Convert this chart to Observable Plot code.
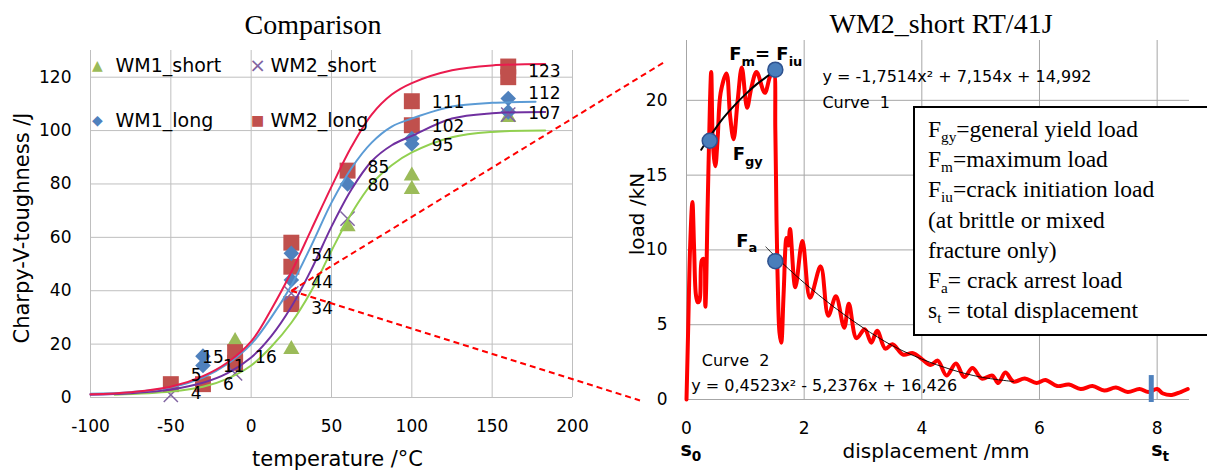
<!DOCTYPE html>
<html><head><meta charset="utf-8">
<script src="https://cdn.jsdelivr.net/npm/d3@7"></script>
<script src="https://cdn.jsdelivr.net/npm/@observablehq/plot@0.6"></script>
<style>
body{margin:0;background:#fff;}
#wrap{position:relative;width:1207px;height:470px;overflow:hidden;background:#fff;}
.title{position:absolute;font-family:"Liberation Serif",serif;font-size:28px;line-height:28px;color:#000;white-space:nowrap;transform:translateX(-50%);}
#lbox{position:absolute;left:913px;top:106px;width:330px;height:230px;box-sizing:border-box;border:2px solid #000;background:#fff;
 font-family:"Liberation Serif",serif;font-size:23.5px;line-height:30.2px;padding:6px 0 0 13px;color:#000;white-space:nowrap;}
#lbox sub{font-size:65%;vertical-align:-0.35em;line-height:0;}
#right,#left{position:absolute;top:0;}
#right{left:600px;}
#left{left:0;}
</style></head><body>
<div id="wrap">
 <div id="right"></div>
 <div id="lbox">
  F<sub>gy</sub>=general&nbsp;yield load<br>
  F<sub>m</sub>=maximum load<br>
  F<sub>iu</sub>=crack initiation&nbsp;load<br>
  (at brittle or mixed<br>
  fracture only)<br>
  F<sub>a</sub>= crack arrest load<br>
  s<sub>t</sub> = total displacement
 </div>
 <div id="left"></div>
 <div class="title" style="left:313px;top:11px;">Comparison</div>
 <div class="title" style="left:941px;top:10px;">WM2_short&nbsp;RT/41J</div>
</div>
<script>
// ---------- Left chart: Charpy-V toughness vs temperature ----------
const tempTicks = [-100, -50, 0, 50, 100, 150, 200];
const toughTicks = [0, 20, 40, 60, 80, 100, 120];
const seriesNames = ["WM1_short", "WM2_short", "WM1_long", "WM2_long"];
const markerColors = ["#9BBB59", "#8064A2", "#4F81BD", "#C0504D"];
const fitColors = ["#92D050", "#7030A0", "#5B9BD5", "#EA1B4E"];
const legendGlyphs = ["\u25B2", "\u00D7", "\u25C6", "\u25A0"];

// measured points
const wm1ShortT = [-10, 25, 60, 100, 100, 160];
const wm1ShortJ = [21, 18, 64, 83, 78, 105];
const wm2ShortT = [-50, -10, 25, 60, 160];
const wm2ShortJ = [1, 9, 39, 67, 106];
const wm1LongT = [-30, -30, 25, 25, 60, 100, 100, 160, 160];
const wm1LongJ = [15.5, 12, 54, 44, 80, 97, 95, 112, 107];
const wm2LongT = [-50, -30, -10, -10, 25, 25, 25, 60, 100, 100, 160, 160];
const wm2LongJ = [5, 5, 17, 13, 58, 49, 35, 85, 111, 102, 124, 120];

// fitted transition curves
const wm1ShortFitT = [-85, -50, -30, -15, 0, 12.5, 25, 37.5, 50, 62.5, 75, 87.5, 100, 125, 150, 183];
const wm1ShortFitJ = [1, 2.2, 4, 7, 12, 19, 28, 40, 55, 69, 80, 87, 91.8, 97.5, 99.5, 100];
const wm2ShortFitT = [-100, -75, -50, -30, -15, 0, 12.5, 25, 37.5, 50, 62.5, 75, 87.5, 100, 125, 150, 183];
const wm2ShortFitJ = [1, 1.6, 3, 5.5, 9, 15, 23, 34, 48, 64, 78, 88.5, 94.5, 98, 104.5, 106.5, 107];
const wm1LongFitT = [-100, -75, -50, -30, -15, 0, 12.5, 25, 37.5, 50, 62.5, 75, 87.5, 100, 125, 150, 177];
const wm1LongFitJ = [1.4, 2, 3.8, 7.5, 12.5, 20, 30, 42, 57, 73, 86, 95.5, 101.5, 104.5, 109, 110.4, 110.8];
const wm2LongFitT = [-100, -75, -50, -30, -15, 0, 12.5, 25, 37.5, 50, 62.5, 75, 87.5, 100, 125, 150, 183];
const wm2LongFitJ = [1.2, 2, 4, 8, 13, 21, 33, 47, 63, 79, 94, 106, 113.5, 117.8, 122.6, 124.4, 124.9];

// data labels
const labelT = [160, 160, 160, 100, 100, 100, 60, 60, 25, 25, 25, -10, -43, -30, -30, -50, -50];
const labelJ = [122, 113.8, 106.5, 110.6, 101.6, 94.5, 86.3, 79.5, 53.2, 43, 33.4, 15, 15, 11.5, 4.8, 8.3, 1.3];
const labelText = ["123", "112", "107", "111", "102", "95", "85", "80", "54", "44", "34", "16", "15", "11", "6", "5", "4"];

// dashed zoom connectors (left-chart units)
const zoomFromT = [25, 25], zoomFromJ = [40, 40];
const zoomToT = [257, 242], zoomToJ = [125.6, -1.1];

// ---------- Right chart: load vs displacement ----------
const dispTicks = [0, 2, 4, 6, 8];
const loadTicks = [0, 5, 10, 15, 20];
const dispX = [0, 0.03, 0.06, 0.1, 0.13, 0.16, 0.19, 0.22, 0.26, 0.29, 0.32, 0.36, 0.4, 0.42, 0.45, 0.49, 0.53, 0.58, 0.68,
  0.74, 0.8, 0.87, 0.94, 1.03, 1.1, 1.19, 1.33, 1.42, 1.48, 1.51, 1.53, 1.55, 1.58, 1.61, 1.65, 1.7, 1.73, 1.76, 1.85,
  1.97, 2.1, 2.28, 2.41, 2.54, 2.68, 2.76, 2.89, 3.03, 3.14, 3.24, 3.38, 3.5, 3.68, 3.85, 4.0, 4.15, 4.27, 4.42, 4.58,
  4.72, 4.86, 5.02, 5.2, 5.3, 5.42, 5.56, 5.75, 5.95, 6.1, 6.3, 6.5, 6.7, 6.9, 7.1, 7.3, 7.5, 7.7, 7.85, 8.0, 8.1, 8.25, 8.4, 8.52];
const loadY = [0, 5, 10, 13.2, 10, 7, 6.5, 6.6, 9.3, 9.4, 6.2, 13, 20, 21.9, 17, 15.6, 17.5, 20.5, 21.8,
  19, 17.4, 20, 22.2, 19.5, 20.8, 21.9, 20.5, 21.6, 22, 18, 12, 8, 4.5, 3.8, 7, 10.8, 10.3, 11.4, 7.5,
  10.6, 6.8, 8.9, 5.6, 6.9, 4.8, 6.4, 4.1, 4.7, 3.8, 4.6, 3.4, 3.7, 3.0, 3.1, 2.7, 2.3, 2.6, 1.6, 2.4,
  1.5, 2.1, 1.4, 1.6, 1.1, 1.8, 1.2, 1.4, 1.1, 1.3, 0.9, 1.0, 0.7, 0.9, 0.6, 0.8, 0.5, 0.7, 0.5, 0.7, 0.4, 0.3, 0.5, 0.7];
const fit1X = [0.25, 0.4, 0.6, 0.8, 1.0, 1.2, 1.48];
const fit1Y = [16.7, 17.6, 18.7, 19.6, 20.4, 21.1, 21.9];
const fit2X = [1.35, 1.5, 2, 2.5, 3, 3.5, 4, 4.5, 5, 5.56];
const fit2Y = [10.2, 9.6, 7.8, 6.2, 4.8, 3.6, 2.7, 2.0, 1.5, 1.2];
const keyX = [0.395, 1.51, 1.51];
const keyY = [17.3, 22.05, 9.25];
const keyLabels = ["F_{gy}", "F_{m}= F_{iu}", "F_{a}"];
const stDisp = 7.9, stBarBottom = -0.2, stBarTop = 1.6;
const axisEndX = [0, 8];
const axisEndLabels = ["s_{0}", "s_{t}"];
const noteX = [2.31, 2.31, 0.26, 0.08];
const noteY = [21.6, 19.8, 2.6, 0.93];
const noteText = ["y = -1,7514x\u00B2 + 7,154x + 14,992", "Curve\u00A0\u00A01", "Curve\u00A0\u00A02", "y = 0,4523x\u00B2 - 5,2376x + 16,426"];

// ---------- build tables ----------
const pts = (T, J, s) => T.map((t, i) => ({T: t, J: J[i], s}));
const fitRows = [
  ...pts(wm1ShortFitT, wm1ShortFitJ, 0), ...pts(wm2ShortFitT, wm2ShortFitJ, 1),
  ...pts(wm1LongFitT, wm1LongFitJ, 2), ...pts(wm2LongFitT, wm2LongFitJ, 3)
];
const labelRows = labelT.map((t, i) => ({T: t, J: labelJ[i], text: labelText[i]}));
const zoomRows = zoomFromT.map((t, i) => ({T1: t, J1: zoomFromJ[i], T2: zoomToT[i], J2: zoomToJ[i]}));

const fontSans = "DejaVu Sans";
const legendMarks = [];
seriesNames.forEach((name, i) => {
  const col = i % 2, row = Math.floor(i / 2);
  legendMarks.push(Plot.text([legendGlyphs[i]], {frameAnchor: "top-left", dx: 7 + col * 160, dy: 15 + row * 55,
    text: d => d, fill: markerColors[i], fontSize: i === 1 ? 20 : 14, textAnchor: "middle", lineAnchor: "middle"}));
  legendMarks.push(Plot.text([name], {frameAnchor: "top-left", dx: 25 + col * 155, dy: 15 + row * 55,
    text: d => d, fill: "#000", fontSize: 19, textAnchor: "start", lineAnchor: "middle"}));
});

const left = Plot.plot({
  width: 680, height: 470,
  marginLeft: 90, marginRight: 108, marginTop: 50, marginBottom: 73,
  style: {fontFamily: fontSans, fontSize: "17px", background: "transparent", overflow: "visible", color: "#000"},
  x: {domain: [-100, 200], ticks: tempTicks, tickSize: 0, tickPadding: 22, tickFormat: d => String(d), label: null},
  y: {domain: [0, 130], ticks: toughTicks, tickSize: 0, tickPadding: 19, tickFormat: d => String(d), label: null},
  marks: [
    Plot.ruleY(toughTicks, {stroke: "#bfbfbf", strokeWidth: 1}),
    Plot.ruleX(tempTicks, {stroke: "#bfbfbf", strokeWidth: 1}),
    Plot.dot(pts(wm1ShortT, wm1ShortJ, 0), {x: "T", y: "J", symbol: "triangle", r: 6, fill: markerColors[0]}),
    Plot.dot(pts(wm2LongT, wm2LongJ, 3), {x: "T", y: "J", symbol: "square", r: 9, fill: markerColors[3]}),
    Plot.dot(pts(wm1LongT, wm1LongJ, 2), {x: "T", y: "J", symbol: "diamond2", r: 7, fill: markerColors[2]}),
    Plot.dot(pts(wm2ShortT, wm2ShortJ, 1), {x: "T", y: "J", symbol: "times", r: 6.5, stroke: markerColors[1], strokeWidth: 1.5}),
    ...[0, 1, 2, 3].map(s => Plot.line(fitRows.filter(d => d.s === s), {x: "T", y: "J", stroke: fitColors[s], strokeWidth: 2, curve: "catmull-rom"})),
    Plot.text(labelRows, {x: "T", y: "J", text: "text", dx: 20, textAnchor: "start", lineAnchor: "middle", fontSize: 17, fill: "#000"}),
    ...legendMarks,
    Plot.link(zoomRows, {x1: "T1", y1: "J1", x2: "T2", y2: "J2", stroke: "#FF0000", strokeWidth: 2, strokeDasharray: "6,4"}),
    Plot.text(["temperature /\u00B0C"], {frameAnchor: "bottom", dx: 6, dy: 62, text: d => d, fontSize: 21, textAnchor: "middle", lineAnchor: "middle"}),
    Plot.text(["Charpy-V-toughness /J"], {frameAnchor: "left", dx: -68, dy: 4, rotate: -90, text: d => d, fontSize: 21, textAnchor: "middle", lineAnchor: "middle"})
  ]
});

const loadRows = dispX.map((x, i) => ({x, y: loadY[i]}));
const fit1Rows = fit1X.map((x, i) => ({x, y: fit1Y[i]}));
const fit2Rows = fit2X.map((x, i) => ({x, y: fit2Y[i]}));
const keyRows = keyX.map((x, i) => ({x, y: keyY[i], label: keyLabels[i]}));
const noteRows = noteX.map((x, i) => ({x, y: noteY[i], text: noteText[i]}));
const endRows = axisEndX.map((x, i) => ({x, text: axisEndLabels[i]}));

const right = Plot.plot({
  width: 607, height: 470,
  marginLeft: 86, marginRight: 18, marginTop: 40, marginBottom: 71,
  style: {fontFamily: fontSans, fontSize: "17px", background: "white", overflow: "visible", color: "#000"},
  x: {domain: [0, 8.55], ticks: dispTicks, tickSize: 0, tickPadding: 22, tickFormat: d => String(d), label: null},
  y: {domain: [0, 24], ticks: loadTicks, tickSize: 0, tickPadding: 19, tickFormat: d => String(d), label: null},
  marks: [
    Plot.ruleY(loadTicks, {stroke: "#a6a6a6", strokeWidth: 1}),
    Plot.ruleX(dispTicks, {stroke: "#a6a6a6", strokeWidth: 1}),
    Plot.line(loadRows, {x: "x", y: "y", stroke: "#FF0000", strokeWidth: 4, curve: "catmull-rom"}),
    Plot.line(fit1Rows, {x: "x", y: "y", stroke: "#000", strokeWidth: 2, curve: "catmull-rom"}),
    Plot.line(fit2Rows, {x: "x", y: "y", stroke: "#000", strokeWidth: 0.9, curve: "catmull-rom"}),
    Plot.ruleX([stDisp], {x: d => d, y1: stBarBottom, y2: stBarTop, stroke: "#4F81BD", strokeWidth: 5}),
    Plot.dot(keyRows, {x: "x", y: "y", r: 7.5, fill: "#4A7EBB", stroke: "#2F528F", strokeWidth: 1.5}),
    Plot.text(keyRows.filter((d, i) => i === 0), {x: "x", y: "y", text: "label", dx: 23, dy: 14, textAnchor: "start", lineAnchor: "middle", fontWeight: "bold", fontSize: 18}),
    Plot.text(keyRows.filter((d, i) => i === 1), {x: "x", y: "y", text: "label", dx: 27, dy: -15, textAnchor: "end", lineAnchor: "middle", fontWeight: "bold", fontSize: 18}),
    Plot.text(keyRows.filter((d, i) => i === 2), {x: "x", y: "y", text: "label", dx: -18, dy: -20, textAnchor: "end", lineAnchor: "middle", fontWeight: "bold", fontSize: 18}),
    Plot.text(noteRows, {x: "x", y: "y", text: "text", textAnchor: "start", lineAnchor: "middle", fontSize: 16}),
    Plot.text(endRows, {x: "x", text: "text", frameAnchor: "bottom", dx: -6, dy: 50, textAnchor: "start", lineAnchor: "middle", fontWeight: "bold", fontSize: 19}),
    Plot.text(["displacement /mm"], {frameAnchor: "bottom", dx: -2, dy: 52, text: d => d, fontSize: 20, textAnchor: "middle", lineAnchor: "middle"}),
    Plot.text(["load /kN"], {frameAnchor: "left", dx: -49, dy: -6, rotate: -90, text: d => d, fontSize: 20, textAnchor: "middle", lineAnchor: "middle"})
  ]
});

document.getElementById("right").appendChild(right);
document.getElementById("left").appendChild(left);

// subscripts written as _{..}
function richText(svg) {
  svg.querySelectorAll("text").forEach(t => {
    const s = t.textContent;
    if (!/_\{/.test(s)) return;
    const fs = parseFloat(getComputedStyle(t).fontSize) || 16;
    const parts = s.split(/(_\{[^}]*\})/).filter(p => p);
    t.textContent = "";
    let shift = 0;
    for (const p of parts) {
      const ts = document.createElementNS("http://www.w3.org/2000/svg", "tspan");
      let target = 0, txt = p, small = false;
      if (p.startsWith("_{")) { target = fs * 0.3; txt = p.slice(2, -1); small = true; }
      if (target - shift !== 0) ts.setAttribute("dy", target - shift);
      shift = target;
      if (small) ts.setAttribute("font-size", fs * 0.72);
      ts.textContent = txt;
      t.appendChild(ts);
    }
  });
}
richText(right);
richText(left);
</script>
</body></html>
